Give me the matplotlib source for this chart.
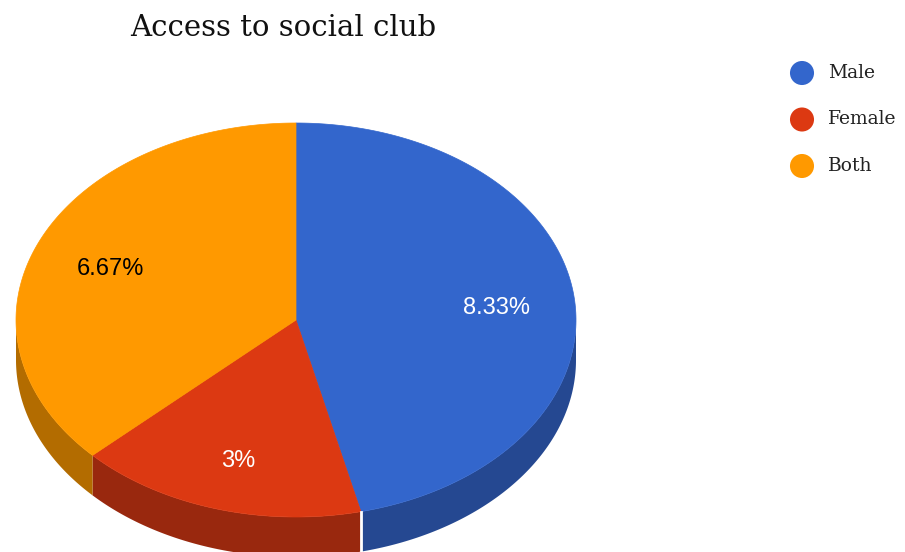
import numpy as np
import matplotlib
matplotlib.use('Agg')
import matplotlib.pyplot as plt
from matplotlib.patches import Polygon

# Slice data
labels = ['Male', 'Female', 'Both']
values = [8.33, 3, 6.67]
slice_text = ['8.33%', '3%', '6.67%']

TOP_COLORS = ['#3366cc', '#dc3912', '#ff9900']
SIDE_COLORS = ['#254891', '#99280e', '#b36c00']
TEXT_COLORS = ['white', 'white', 'black']

# Pie geometry in pixel space (y grows downward)
CX, CY = 296, 320
RX, RY = 280, 197
DEPTH = 40


def ellipse_pts(t_deg, dy=0):
    t = np.radians(t_deg)
    return np.column_stack([CX + RX * np.sin(t), CY - RY * np.cos(t) + dy])


fig = plt.figure(figsize=(9.05, 5.52), dpi=100)
ax = fig.add_axes([0, 0, 1, 1])
ax.set_xlim(0, 905)
ax.set_ylim(552, 0)
ax.axis('off')

# slice angles, clockwise from 12 o'clock
frac = np.array(values) / np.sum(values)
ends = np.cumsum(frac) * 360
starts = ends - frac * 360

# side walls (only the front half is visible)
for i in range(len(values)):
    a, b = max(starts[i], 90), min(ends[i], 270)
    if a >= b:
        continue
    t = np.linspace(a, b, 120)
    top = ellipse_pts(t)
    bot = ellipse_pts(t[::-1], DEPTH)
    ax.add_patch(Polygon(np.vstack([top, bot]), closed=True,
                         facecolor=SIDE_COLORS[i], edgecolor='none'))

# white seam at the end of the first slice
seam = ellipse_pts(np.array([ends[0]]))[0]
ax.plot([seam[0], seam[0]], [seam[1], seam[1] + DEPTH], color='white', lw=2)

# top faces
for i in range(len(values)):
    t = np.linspace(starts[i], ends[i], 200)
    pts = np.vstack([[CX, CY], ellipse_pts(t)])
    ax.add_patch(Polygon(pts, closed=True, facecolor=TOP_COLORS[i],
                         edgecolor=TOP_COLORS[i], lw=0.5))

    mid = (starts[i] + ends[i]) / 2
    f = 0.72
    lx = CX + f * RX * np.sin(np.radians(mid))
    ly = CY - f * RY * np.cos(np.radians(mid)) + 5
    ax.text(lx, ly, slice_text[i], ha='center', va='center', fontsize=17,
            color=TEXT_COLORS[i], family='Liberation Sans')

ax.text(283, 28, 'Access to social club', ha='center', va='center',
        fontsize=21, family='DejaVu Serif', color='#111111')

# legend
for i, lab in enumerate(labels):
    y = 73 + 46.5 * i
    ax.scatter([802], [y], s=300, color=TOP_COLORS[i], edgecolors='none')
    ax.text(828, y, lab, ha='left', va='center', fontsize=13.5,
            family='DejaVu Serif', color='#222222')

fig.savefig('out.png', dpi=100)
